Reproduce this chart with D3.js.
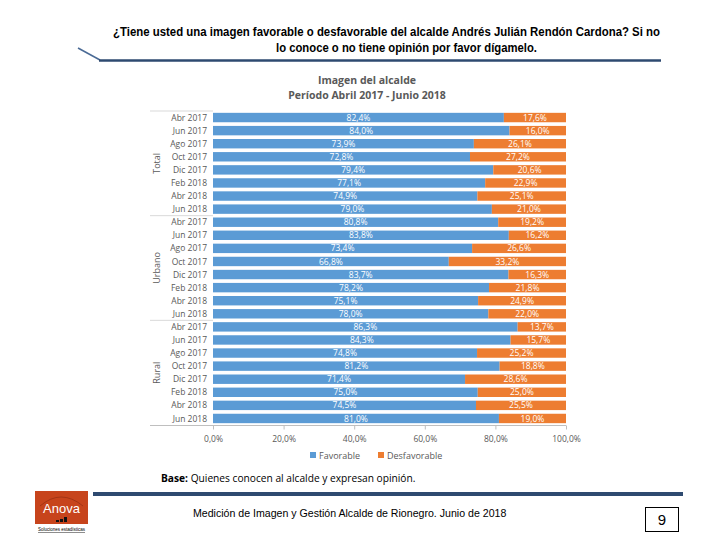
<!DOCTYPE html>
<html><head><meta charset="utf-8">
<script src="https://cdn.jsdelivr.net/npm/d3@7"></script>
<style>body{margin:0;background:#fff}svg{display:block}</style>
</head><body>
<svg id="c" width="720" height="540"></svg>
<script>
const groups = ["Total", "Urbano", "Rural"];
const months = ["Abr 2017","Jun 2017","Ago 2017","Oct 2017","Dic 2017","Feb 2018","Abr 2018","Jun 2018"];
const favorableTotal = [82.4, 84.0, 73.9, 72.8, 79.4, 77.1, 74.9, 79.0];
const favorableUrbano = [80.8, 83.8, 73.4, 66.8, 83.7, 78.2, 75.1, 78.0];
const favorableRural = [86.3, 84.3, 74.8, 81.2, 71.4, 75.0, 74.5, 81.0];
const desfavTotal = [17.6, 16.0, 26.1, 27.2, 20.6, 22.9, 25.1, 21.0];
const desfavUrbano = [19.2, 16.2, 26.6, 33.2, 16.3, 21.8, 24.9, 22.0];
const desfavRural = [13.7, 15.7, 25.2, 18.8, 28.6, 25.0, 25.5, 19.0];
const xTicks = [0, 20, 40, 60, 80, 100];
const seriesNames = ["Favorable", "Desfavorable"];

const fav = [favorableTotal, favorableUrbano, favorableRural];
const des = [desfavTotal, desfavUrbano, desfavRural];
const rows = [];
groups.forEach((g, gi) => months.forEach((m, mi) => rows.push({
  key: g + "|" + m, group: g, month: m, fav: fav[gi][mi], des: des[gi][mi]
})));

const colors = {Favorable: "#5B9BD5", Desfavorable: "#ED7D31"};
const svg = d3.select("#c");
const fmt = v => d3.format(".1f")(v).replace(".", ",") + "%";

// Header
const hfont = "'Liberation Sans Narrow','Arial Narrow','Liberation Sans',sans-serif";
svg.append("text").attr("x", 113).attr("y", 36)
  .attr("font-family", hfont).attr("font-size", 12.5).attr("font-weight", "bold").attr("fill", "#000")
  .attr("textLength", 547).attr("lengthAdjust", "spacingAndGlyphs")
  .text("¿Tiene usted una imagen favorable o desfavorable del alcalde Andrés Julián Rendón Cardona? Si no");
svg.append("text").attr("x", 276).attr("y", 52)
  .attr("font-family", hfont).attr("font-size", 12.5).attr("font-weight", "bold").attr("fill", "#000")
  .attr("textLength", 261).attr("lengthAdjust", "spacingAndGlyphs")
  .text("lo conoce o no tiene opinión por favor dígamelo.");
svg.append("line").attr("x1", 78).attr("y1", 48).attr("x2", 100).attr("y2", 60)
  .attr("stroke", "#4A6A95").attr("stroke-width", 1.5);
svg.append("line").attr("x1", 99).attr("y1", 60.5).attr("x2", 661).attr("y2", 60.5)
  .attr("stroke", "#2E4A70").attr("stroke-width", 2.5);

// Chart title
const ct = svg.append("text").attr("text-anchor", "middle")
  .attr("font-family", "'Open Sans','Noto Sans',sans-serif").attr("font-size", 10.5)
  .attr("font-weight", "bold").attr("fill", "#595959");
ct.append("tspan").attr("x", 367).attr("y", 84).text("Imagen del alcalde");
ct.append("tspan").attr("x", 367).attr("y", 99).text("Período Abril 2017 - Junio 2018");

// Scales
const x = d3.scaleLinear().domain([0, 100]).range([213, 566]);
const y = d3.scaleBand().domain(rows.map(r => r.key)).range([111, 425]).paddingInner(0.28).paddingOuter(0.14);

const font = "'Open Sans','Noto Sans',sans-serif";

// Bars
const g = svg.append("g");
g.selectAll("rect.fav").data(rows).join("rect").attr("class", "fav")
  .attr("x", x(0)).attr("y", d => y(d.key)).attr("height", y.bandwidth())
  .attr("width", d => x(d.fav) - x(0)).attr("fill", colors.Favorable);
g.selectAll("rect.des").data(rows).join("rect").attr("class", "des")
  .attr("x", d => x(d.fav)).attr("y", d => y(d.key)).attr("height", y.bandwidth())
  .attr("width", d => x(d.fav + d.des) - x(d.fav)).attr("fill", colors.Desfavorable);

// Value labels
g.selectAll("text.fl").data(rows).join("text").attr("class", "fl")
  .attr("x", d => x(d.fav / 2)).attr("y", d => y(d.key) + y.bandwidth() / 2)
  .attr("dy", "0.36em").attr("text-anchor", "middle").attr("fill", "#fff")
  .attr("font-family", font).attr("font-size", 8.5).text(d => fmt(d.fav));
g.selectAll("text.dl").data(rows).join("text").attr("class", "dl")
  .attr("x", d => x(d.fav + d.des / 2)).attr("y", d => y(d.key) + y.bandwidth() / 2)
  .attr("dy", "0.36em").attr("text-anchor", "middle").attr("fill", "#fff")
  .attr("font-family", font).attr("font-size", 8.5).text(d => fmt(d.des));

// Category labels
svg.append("g").selectAll("text").data(rows).join("text")
  .attr("x", 207).attr("y", d => y(d.key) + y.bandwidth() / 2).attr("dy", "0.36em")
  .attr("text-anchor", "end").attr("fill", "#595959")
  .attr("font-family", font).attr("font-size", 8.5).text(d => d.month);

// Group separators and labels
const step = y.step();
groups.forEach((gname, gi) => {
  const first = y(gname + "|" + months[0]) - (step - y.bandwidth()) / 2;
  const last = y(gname + "|" + months[months.length - 1]) + y.bandwidth() + (step - y.bandwidth()) / 2;
  svg.append("line").attr("x1", 150).attr("x2", 213).attr("y1", first).attr("y2", first)
    .attr("stroke", "#D9D9D9").attr("stroke-width", 1);
  const cy = (first + last) / 2;
  svg.append("text").attr("transform", `translate(160,${cy}) rotate(-90)`)
    .attr("text-anchor", "middle").attr("fill", "#595959")
    .attr("font-family", font).attr("font-size", 9).text(gname);
});

// X axis
const axis = svg.append("g").attr("transform", "translate(0,425.5)")
  .call(d3.axisBottom(x).tickValues(xTicks).tickSize(4).tickFormat(v => fmt(v)));
axis.select(".domain").attr("stroke", "#BFBFBF").attr("d", "M150,0H566");
axis.selectAll(".tick line").attr("stroke", "#BFBFBF");
axis.selectAll(".tick text").attr("fill", "#595959").attr("font-family", font)
  .attr("font-size", 8.5).attr("dy", "1.1em");

// Legend
const leg = svg.append("g").attr("font-family", font).attr("font-size", 9).attr("fill", "#595959");
const legX = [310, 378];
seriesNames.forEach((s, i) => {
  leg.append("rect").attr("x", legX[i]).attr("y", 452).attr("width", 6).attr("height", 6).attr("fill", colors[s]);
  leg.append("text").attr("x", legX[i] + 9).attr("y", 458.5).attr("fill", "#595959").text(s);
});

// Base note
const base = svg.append("text").attr("x", 161).attr("y", 482)
  .attr("font-family", font).attr("font-size", 10.2).attr("fill", "#000");
base.append("tspan").attr("font-weight", "bold").text("Base:");
base.append("tspan").text(" Quienes conocen al alcalde y expresan opinión.");

// Footer line
svg.append("line").attr("x1", 93).attr("x2", 683).attr("y1", 494).attr("y2", 494)
  .attr("stroke", "#2E4A70").attr("stroke-width", 4);

// Logo
svg.append("rect").attr("x", 35).attr("y", 491).attr("width", 53).attr("height", 33).attr("fill", "#C7441C");
svg.append("path").attr("d", "M40,506 Q61,488 83,506").attr("fill", "none").attr("stroke", "#8A2A10").attr("stroke-width", 0.6);
svg.append("text").attr("x", 61.5).attr("y", 513).attr("text-anchor", "middle")
  .attr("font-family", "'Liberation Sans',Arial,sans-serif").attr("font-size", 13).attr("fill", "#fff").text("Anova");
[[56,520,3,2],[60,519,3,3],[64,517,3,5]].forEach(b => svg.append("rect")
  .attr("x", b[0]).attr("y", b[1]).attr("width", b[2]).attr("height", b[3]).attr("fill", "#111"));
svg.append("text").attr("x", 61.5).attr("y", 531).attr("text-anchor", "middle")
  .attr("font-family", "'Liberation Sans',Arial,sans-serif").attr("font-size", 4.5).attr("fill", "#000")
  .attr("text-decoration", "underline").text("Soluciones estadísticas");

// Footer text
svg.append("text").attr("x", 193).attr("y", 517)
  .attr("font-family", "'Liberation Sans',Arial,sans-serif").attr("font-size", 10.6).attr("fill", "#000")
  .text("Medición de Imagen y Gestión Alcalde de Rionegro. Junio de 2018");

// Page number
svg.append("rect").attr("x", 645.5).attr("y", 507.5).attr("width", 33).attr("height", 24)
  .attr("fill", "#fff").attr("stroke", "#000").attr("stroke-width", 1);
svg.append("text").attr("x", 662).attr("y", 525).attr("text-anchor", "middle")
  .attr("font-family", "'Liberation Sans',Arial,sans-serif").attr("font-size", 15).attr("fill", "#000").text("9");
</script>
</body></html>
